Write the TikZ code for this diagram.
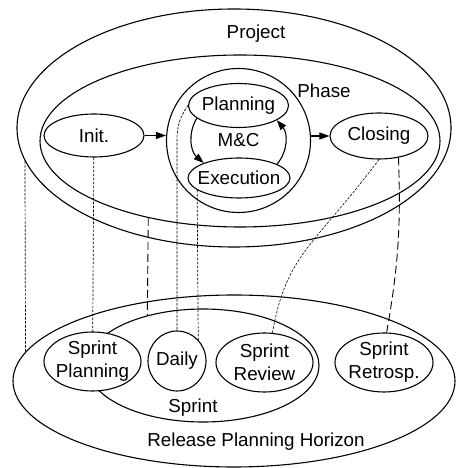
\documentclass[tikz,border=0pt]{standalone}
\usepackage{fontspec}
\setmainfont{Liberation Sans}
\usepackage{tikz}
\usetikzlibrary{arrows.meta, shapes.geometric}

\begin{document}
\begin{tikzpicture}[
            x = 1pt, y = 1pt, % one unit per pixel of the sketch
            > = {Triangle[length=10pt, width=7pt]}, % arrow head style
            line width = 1.1pt, % line style
            font = \fontsize{18.8}{23}\selectfont
        ]
        \tikzstyle{blob}=[
            draw = black,
            ellipse,
            fill = white,
            inner xsep = -10pt,
            inner ysep = 0pt,
            align = center
        ]
        \tikzstyle{finedash}=[line width = 0.7pt, dash pattern = on 2.5pt off 1.5pt]
        \tikzstyle{longdash}=[line width = 0.9pt, dash pattern = on 8pt off 4pt]

        \useasboundingbox (0,0) rectangle (456,468);

        % project with its phases
        \node[blob, minimum width=434, minimum height=238] (proj) at (234,340) {};
        \node[blob, minimum width=400, minimum height=172] (phase) at (240,327) {};
        \node (projlbl) at (256,434) {Project};
        \node (phaselbl) at (324,377) {Phase};
        \node[blob, minimum width=100, minimum height=43] (init) at (94,332.5) {Init.};
        \node[blob, circle, inner sep=0pt, minimum size=144] (mc) at (238.5,327.5) {M\&C};
        \node[blob, minimum width=100, minimum height=44] (plan) at (238.5,362.5) {Planning};
        \node[blob, minimum width=102, minimum height=40] (exe) at (239,290) {Execution};
        \node[blob, minimum width=98, minimum height=46] (closing) at (379,332) {Closing};

        % release planning horizon with the sprint
        \node[blob, minimum width=442, minimum height=172] (rph) at (234,87) {};
        \node[blob, minimum width=232, minimum height=113] (sprint) at (203,102.5) {};
        \node (rphlbl) at (256,26) {Release Planning Horizon};
        \node (sprintlbl) at (193,60) {Sprint};
        \node[blob, minimum width=97, minimum height=59] (splan) at (92.5,106.5) {Sprint\\Planning};
        \node[blob, minimum width=58, minimum height=60] (daily) at (177,107) {Daily};
        \node[blob, minimum width=97, minimum height=59] (review) at (264.5,105.5) {Sprint\\Review};
        \node[blob, minimum width=98, minimum height=59] (retro) at (384,105.5) {Sprint\\Retrosp.};

        \path[->] (init.east) edge (init.east -| mc.west);
        \path[->] (closing.west -| mc.east) edge (closing.west);
        \path[->] (plan.197) edge[bend right=40] (exe.157);
        \path[->] (exe.20) edge[bend right=40] (plan.-21);

        \path[finedash] (proj.189.5) edge (rph.172.4);
        \path[finedash] (init) edge (splan);
        \path[longdash] (phase.220.5) edge (sprint.138.5);
        \draw[finedash] (plan.west) to[out=235, in=90] (daily.north |- mc) -- (daily.north);
        \path[finedash] (exe.196) edge (daily.45);
        \draw[finedash, line width=0.6pt] (closing.south) .. controls +(233:110) and +(80:80) .. (review.75);
        \path[longdash] (closing.-48) edge[out=-88, in=80] (retro.85);
    \end{tikzpicture}
\end{document}
